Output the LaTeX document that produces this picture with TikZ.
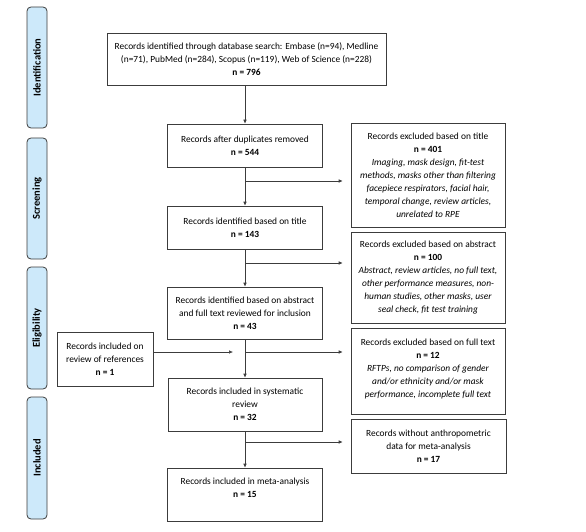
\documentclass[tikz,border=0pt]{standalone}
\usepackage{fontspec}
\setmainfont{Carlito}
\usetikzlibrary{arrows.meta}
\definecolor{sideblue}{RGB}{205,233,250}
\definecolor{linegray}{RGB}{60,60,60}
\tikzset{
  box/.style={draw=linegray, line width=0.6pt, align=center, inner sep=2pt,
    font=\fontsize{9.4}{13}\selectfont},
  side/.style={draw=linegray, line width=0.8pt, fill=sideblue, rounded corners=4pt,
    minimum width=20pt, minimum height=121pt, inner sep=0pt},
  sidelabel/.style={rotate=90, font=\fontsize{10.5}{12}\selectfont\bfseries},
  arr/.style={draw=linegray, line width=0.6pt, -{Latex[length=4pt,width=3.6pt]}},
  ln/.style={draw=linegray, line width=0.6pt}
}
\begin{document}
\begin{tikzpicture}[x=1pt,y=-1pt]
\useasboundingbox (0,0) rectangle (586,532);
% side bars
\node[side] (sid) at (37,67.5) {};
\node[sidelabel] (sidl) at (sid.center) {Identification};
\node[side] (sscr) at (37,198.5) {};
\node[sidelabel] (sscrl) at (sscr.center) {Screening};
\node[side, minimum height=122pt] (selig) at (37,328) {};
\node[sidelabel] (seligl) at (selig.center) {Eligibility};
\node[side, minimum height=122pt] (sinc) at (37,458) {};
\node[sidelabel] (sincl) at (sinc.center) {Included};
% main column
\node[box, minimum width=279pt, minimum height=52pt] (top) at (246.5,59)
 {Records identified through database search: Embase (n=94), Medline\\
  (n=71), PubMed (n=284), Scopus (n=119), Web of Science (n=228)\\
  \textbf{n = 796}};
\node[box, minimum width=155pt, minimum height=43pt] (dup) at (245,145.5)
 {Records after duplicates removed\\ \textbf{n = 544}};
\node[box, minimum width=155pt, minimum height=43pt] (title) at (245,227.5)
 {Records identified based on title\\ \textbf{n = 143}};
\node[box, minimum width=155pt, minimum height=52pt] (abs) at (245,313)
 {Records identified based on abstract\\ and full text reviewed for inclusion\\ \textbf{n = 43}};
\node[box, minimum width=154pt, minimum height=53pt] (sys) at (245,404.5)
 {Records included in systematic\\ review\\ \textbf{n = 32}};
\node[box, minimum width=155pt, minimum height=53pt] (meta) at (245,494.5)
 {Records included in meta-analysis\\ \textbf{n = 15}\\[0pt]};
% right column
\node[box, minimum width=154pt, minimum height=104pt] (ex1) at (428,175)
 {Records excluded based on title\\ \textbf{n = 401}\\
  \textit{Imaging, mask design, fit-test}\\
  \textit{methods, masks other than filtering}\\
  \textit{facepiece respirators, facial hair,}\\
  \textit{temporal change, review articles,}\\
  \textit{unrelated to RPE}};
\node[box, minimum width=154pt, minimum height=91pt] (ex2) at (428,277.5)
 {Records excluded based on abstract\\ \textbf{n = 100}\\
  \textit{Abstract, review articles, no full text,}\\
  \textit{other performance measures, non-}\\
  \textit{human studies, other masks, user}\\
  \textit{seal check, fit test training}};
\node[box, minimum width=154pt, minimum height=86pt] (ex3) at (428,371)
 {Records excluded based on full text\\ \textbf{n = 12}\\
  \textit{RFTPs, no comparison of gender}\\
  \textit{and/or ethnicity and/or mask}\\
  \textit{performance, incomplete full text}\\[-7pt]};
\node[box, minimum width=155pt, minimum height=54pt] (ex4) at (428.5,446)
 {Records without anthropometric\\ data for meta-analysis\\ \textbf{n = 17}};
% left
\node[box, minimum width=96pt, minimum height=54pt] (ref) at (105,359)
 {Records included on\\ review of references\\ \textbf{n = 1}};
% branch points
\coordinate (b1) at (245,181);
\coordinate (b2) at (245,263);
\coordinate (b3) at (245,352);
\coordinate (b4) at (245,442);
% connectors
\draw[arr] (dup.north |- top.south) -- (dup.north);
\draw[arr] (dup.south) -- (title.north);
\draw[arr] (b1) -- ([xshift=-8pt]b1 -| ex1.west);
\draw[arr] (title.south) -- (abs.north);
\draw[arr] (b2) -- ([xshift=-8pt]b2 -| ex2.west);
\draw[arr] (abs.south) -- (sys.north);
\draw[arr] (b3) -- ([xshift=-8pt]b3 -| ex3.west);
\draw[arr] (ref.east |- b3) -- ([xshift=-12pt]b3);
\draw[arr] (sys.south) -- (meta.north);
\draw[arr] (b4) -- ([xshift=-8pt]b4 -| ex4.west);
\end{tikzpicture}
\end{document}
